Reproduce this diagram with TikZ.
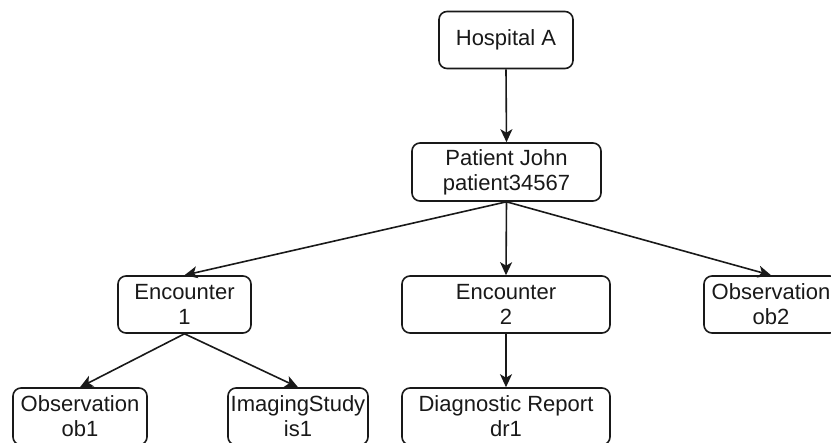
\documentclass[tikz,border=0pt]{standalone}
\usepackage{fontspec}
\setmainfont{Liberation Sans}
\usetikzlibrary{arrows.meta}
\begin{document}
\begin{tikzpicture}[x=1pt,y=-1pt,
  box/.style={draw=black!90, line width=1.6pt, rounded corners=8pt, fill=white,
    inner sep=0pt, align=center, minimum height=57pt,
    font=\fontsize{22}{25}\selectfont, text=black!90},
  link/.style={draw=black!90, line width=1.6pt,
    -{Stealth[length=13pt,width=12pt,inset=3.5pt]}}]
\useasboundingbox (0,0) rectangle (831,443);
\clip (0,0) rectangle (831,443);

\node[box, minimum width=134pt] (hosp) at (506,40) {Hospital A};
\node[box, minimum width=189pt, minimum height=58pt] (pat) at (506.5,172) {Patient John\\patient34567};
\node[box, minimum width=133pt] (enc1) at (184.5,304.5) {Encounter\\1};
\node[box, minimum width=208pt] (enc2) at (506,304.5) {Encounter\\2};
\node[box, minimum width=134pt] (ob2) at (771,304.5) {Observation\\ob2};
\node[box, minimum width=134pt] (ob1) at (80,416.5) {Observation\\ob1};
\node[box, minimum width=140pt] (is1) at (298,416.5) {ImagingStudy\\is1};
\node[box, minimum width=208pt] (dr1) at (506,416.5) {Diagnostic Report\\dr1};

\draw[link] (hosp.south) -- (pat.north);
\draw[link] (pat.south) -- (enc1.north);
\draw[link] (pat.south) -- (enc2.north);
\draw[link] (pat.south) -- (ob2.north);
\draw[link] (enc1.south) -- (ob1.north);
\draw[link] (enc1.south) -- (is1.north);
\draw[link] (enc2.south) -- (dr1.north);
\end{tikzpicture}
\end{document}
